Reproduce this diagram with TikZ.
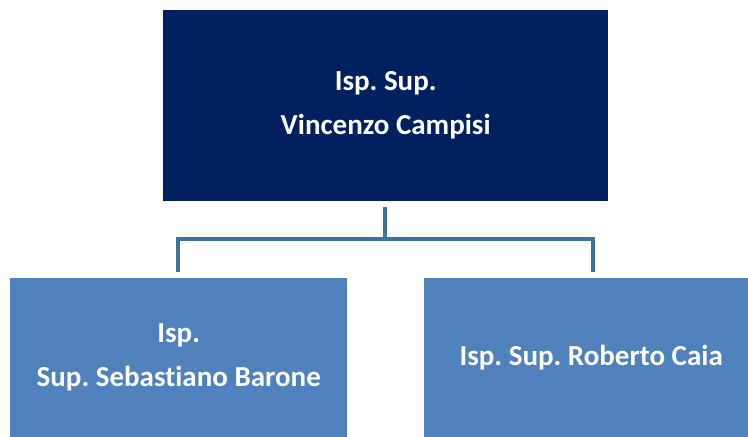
\documentclass[tikz,border=0pt]{standalone}
\usepackage{fontspec}
\setmainfont{Carlito}[Ligatures={NoCommon}]
\frenchspacing
\definecolor{navy}{HTML}{012060}
\definecolor{steel}{HTML}{4F81BD}
\definecolor{wire}{HTML}{41719C}
\begin{document}
\begin{tikzpicture}[x=1pt,y=-1pt,
  chief/.style={fill=navy,draw=none,text=white,font=\bfseries\fontsize{29}{44}\selectfont,align=center,inner sep=0pt,anchor=north west},
  deputy/.style={fill=steel,draw=none,text=white,font=\bfseries\fontsize{29}{44}\selectfont,align=center,inner sep=0pt,anchor=north west},
  wirestyle/.style={draw=wire,line width=4.7pt}]
\useasboundingbox (0,0) rectangle (748,437);
\node[chief,minimum width=445pt,minimum height=191pt] (top) at (163,10) {Isp. Sup.\\Vincenzo Campisi};
\node[deputy,minimum width=337pt,minimum height=159pt] (left) at (10,278) {Isp.\\Sup. Sebastiano Barone};
\node[deputy,minimum width=324pt,minimum height=159pt] (right) at (424,278) {\hspace*{10pt}Isp. Sup. Roberto Caia};
\coordinate (hub) at (385,239);
\coordinate (ltop) at (178,272);
\coordinate (rtop) at (593,272);
\draw[wirestyle] ([yshift=-6pt]top.south -| hub) -- (hub);
\draw[wirestyle,line join=miter] (ltop) -- (ltop |- hub) -- (rtop |- hub) -- (rtop);
\end{tikzpicture}
\end{document}
